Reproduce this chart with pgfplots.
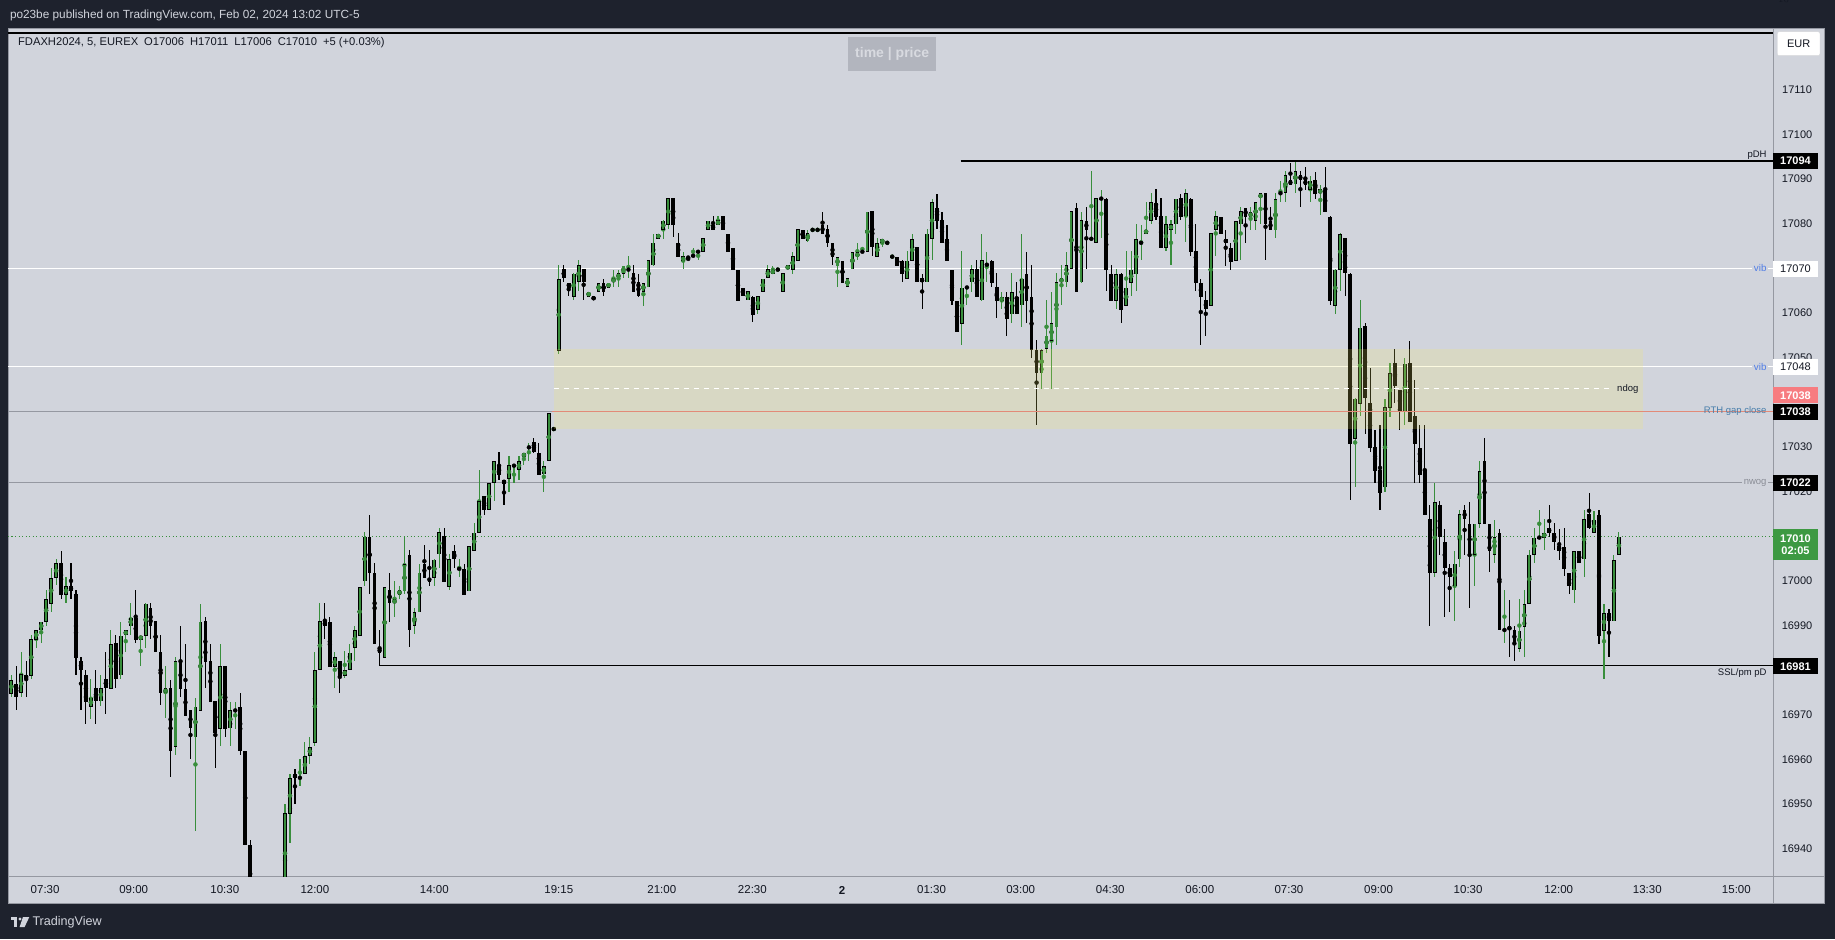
\documentclass[border=0pt]{standalone}
\usepackage{fontspec}
\setmainfont{Liberation Sans}
\usepackage{pgfplots}
\usepackage{pgfplotstable}
\pgfplotsset{compat=1.18}

\definecolor{tvdark}{RGB}{30,34,45}
\definecolor{tvbg}{RGB}{209,212,220}
\definecolor{tvgrey}{RGB}{149,152,161}
\definecolor{tvtext}{RGB}{19,23,34}
\definecolor{upg}{RGB}{56,142,60}
\definecolor{tagg}{RGB}{61,153,66}
\definecolor{salmon}{RGB}{247,124,128}
\definecolor{vibblue}{RGB}{80,125,230}
\definecolor{rthblue}{RGB}{70,125,170}
\definecolor{boxy}{RGB}{244,232,100}
\definecolor{redline}{RGB}{226,138,120}
\definecolor{nwogc}{RGB}{138,141,150}
\definecolor{tpbox}{RGB}{178,181,190}
\definecolor{tptext}{RGB}{216,218,224}

% FDAX 5 min bars, k = bar index, o h l c
\pgfplotstableread{
k o h l c
0 16974.9 16979.0 16974.1 16978.0
1 16976.9 16981.0 16971.1 16974.0
2 16974.9 16984.1 16974.1 16979.0
3 16979.0 16982.1 16974.1 16978.0
4 16978.8 16987.9 16978.1 16987.0
5 16986.9 16989.0 16985.1 16989.0
6 16989.0 16991.0 16986.2 16991.0
7 16991.0 16998.0 16990.0 16996.0
8 16995.0 17002.9 16993.1 17000.8
9 17000.8 17004.9 16999.0 17004.0
10 17004.0 17006.9 16996.0 16996.9
11 16996.9 17000.9 16995.2 16998.9
12 16998.9 17004.0 16996.0 16997.9
13 16997.1 16998.0 16979.0 16982.8
14 16982.1 16983.0 16971.1 16980.0
15 16979.0 16980.0 16968.1 16973.0
16 16971.9 16978.1 16969.2 16974.0
17 16976.0 16980.0 16968.1 16973.0
18 16973.0 16979.0 16972.1 16976.0
19 16978.0 16984.1 16970.1 16976.0
20 16976.0 16989.0 16976.0 16986.0
21 16986.0 16988.0 16976.1 16978.0
22 16978.9 16991.0 16978.1 16987.8
23 16987.9 16989.0 16984.1 16989.0
24 16989.9 16995.1 16987.9 16991.9
25 16991.9 16998.0 16986.2 16986.9
26 16986.9 16987.8 16981.0 16987.8
27 16987.8 16995.0 16985.1 16995.0
28 16994.0 16995.0 16987.1 16989.8
29 16991.0 16991.0 16984.0 16984.0
30 16984.1 16987.9 16972.1 16974.9
31 16974.9 16981.0 16969.2 16976.0
32 16976.0 16978.0 16956.2 16962.0
33 16962.9 16983.1 16961.1 16982.1
34 16982.1 16989.9 16974.1 16976.0
35 16976.0 16986.0 16969.9 16969.9
36 16971.0 16971.0 16960.2 16967.0
37 16965.0 16974.0 16944.1 16971.9
38 16971.0 16995.0 16971.0 16991.0
39 16991.0 16992.0 16976.0 16981.9
40 16982.1 16986.0 16973.0 16973.0
41 16973.0 16973.0 16958.2 16965.9
42 16967.0 16986.0 16963.1 16981.0
43 16981.0 16981.0 16965.2 16967.0
44 16967.0 16973.0 16963.1 16971.0
45 16971.0 16973.0 16967.0 16971.0
46 16971.9 16974.9 16961.1 16962.0
47 16962.0 16962.0 16941.0 16941.0
48 16941.0 16942.0 16925.0 16928.0
49 16928.0 16932.0 16915.0 16918.0
50 16918.0 16925.0 16910.0 16920.0
51 16920.0 16926.0 16912.0 16915.0
52 16915.0 16922.0 16908.0 16921.0
53 16921.0 16930.0 16917.0 16928.0
54 16928.0 16933.0 16922.0 16930.0
55 16930.0 16950.1 16925.0 16948.0
56 16948.0 16956.9 16941.3 16956.0
57 16956.9 16958.1 16950.2 16956.0
58 16956.0 16960.3 16954.1 16956.0
59 16956.9 16964.0 16956.9 16960.9
60 16960.9 16965.2 16959.2 16963.0
61 16963.9 16984.2 16963.1 16980.1
62 16980.1 16995.2 16980.1 16991.0
63 16991.0 16995.2 16987.2 16989.8
64 16991.0 16992.0 16980.8 16980.8
65 16980.8 16984.2 16976.1 16982.9
66 16982.1 16982.1 16975.0 16978.8
67 16978.8 16984.2 16978.2 16980.1
68 16980.1 16986.0 16980.1 16984.0
69 16985.0 16989.9 16982.2 16989.0
70 16987.8 16998.7 16987.8 16998.7
71 16999.9 17010.9 16998.9 17009.9
72 17009.9 17014.9 16997.2 17001.9
73 17001.9 17003.9 16986.0 16986.0
74 16984.9 16989.0 16981.0 16984.0
75 16982.9 16998.7 16982.9 16998.7
76 16998.0 17001.9 16991.0 16995.0
77 16995.0 17000.0 16992.0 16995.9
78 16996.9 16998.9 16995.9 16998.0
79 16997.8 17009.9 16997.2 17003.9
80 17006.0 17006.9 16985.1 16989.0
81 16989.9 16993.9 16988.1 16993.0
82 16993.0 17003.9 16993.0 17001.9
83 17003.9 17008.1 17000.8 17000.8
84 17000.8 17006.9 16998.9 16999.9
85 17000.8 17004.9 16998.9 17004.9
86 17006.0 17011.9 17003.0 17010.9
87 17010.0 17011.9 16999.9 16999.9
88 16998.7 17006.0 16998.0 17004.9
89 17006.9 17008.1 17003.0 17004.9
90 17002.8 17004.9 17001.0 17002.8
91 17002.8 17003.9 16997.0 16997.0
92 16997.8 17007.9 16997.8 17007.9
93 17006.9 17012.9 17006.9 17010.9
94 17010.9 17024.9 17010.9 17017.9
95 17019.0 17019.0 17014.9 17015.9
96 17015.9 17021.9 17015.9 17021.9
97 17021.9 17026.9 17017.9 17026.9
98 17026.0 17029.0 17022.8 17023.9
99 17022.8 17022.8 17017.0 17021.9
100 17022.8 17028.0 17020.0 17026.0
101 17025.8 17025.8 17021.9 17025.8
102 17024.9 17028.0 17022.8 17026.9
103 17027.8 17028.8 17026.0 17028.8
104 17029.9 17031.0 17026.9 17029.9
105 17031.0 17032.1 17028.8 17028.8
106 17028.8 17031.0 17023.9 17023.9
107 17023.9 17026.9 17020.0 17025.8
108 17026.9 17037.7 17026.9 17037.7
109 17034.0 17034.0 17034.0 17034.0
110 17051.7 17070.7 17050.8 17067.8
111 17069.8 17070.7 17067.0 17067.8
112 17066.9 17066.9 17063.9 17065.7
113 17063.7 17068.9 17062.9 17068.9
114 17066.9 17071.9 17064.9 17070.7
115 17069.8 17069.8 17062.9 17066.9
116 17063.7 17064.8 17063.7 17064.8
117 17063.8 17063.8 17062.8 17062.8
118 17064.8 17066.9 17064.8 17066.9
119 17066.9 17067.8 17063.9 17064.8
120 17065.7 17066.9 17065.7 17066.9
121 17066.9 17069.8 17065.9 17067.8
122 17067.8 17069.8 17065.9 17068.9
123 17068.9 17070.7 17067.9 17070.7
124 17069.8 17072.8 17067.9 17069.8
125 17068.9 17070.7 17064.8 17064.8
126 17066.9 17068.9 17063.7 17063.7
127 17064.8 17066.9 17061.8 17066.9
128 17065.7 17071.9 17065.7 17071.9
129 17070.7 17077.8 17070.7 17075.8
130 17076.7 17077.8 17076.7 17077.8
131 17078.7 17080.8 17076.7 17080.8
132 17079.8 17085.7 17078.8 17085.7
133 17085.7 17085.7 17076.9 17079.8
134 17075.8 17077.8 17072.6 17072.6
135 17071.7 17073.7 17069.8 17072.8
136 17072.6 17072.6 17071.9 17072.4
137 17072.8 17074.7 17072.8 17072.8
138 17073.8 17073.8 17071.9 17073.8
139 17073.7 17076.7 17073.7 17076.7
140 17078.7 17080.8 17078.7 17080.8
141 17079.8 17081.7 17078.7 17078.7
142 17079.8 17081.7 17079.8 17080.8
143 17081.7 17081.7 17078.7 17078.7
144 17077.8 17077.8 17073.7 17073.7
145 17074.7 17074.7 17069.8 17069.8
146 17069.8 17069.8 17062.8 17062.8
147 17065.7 17065.7 17063.8 17063.8
148 17062.8 17064.8 17062.8 17064.8
149 17063.8 17063.8 17057.9 17059.7
150 17060.8 17063.8 17059.9 17063.8
151 17064.8 17067.8 17064.8 17067.8
152 17067.8 17070.7 17067.8 17069.8
153 17068.9 17070.7 17068.9 17069.8
154 17069.8 17069.8 17069.8 17069.8
155 17064.8 17068.9 17064.8 17068.9
156 17069.8 17070.7 17069.8 17070.7
157 17069.8 17073.8 17068.9 17072.8
158 17071.7 17078.7 17071.7 17078.7
159 17078.7 17078.7 17076.7 17076.7
160 17076.0 17078.7 17076.0 17077.8
161 17078.7 17078.7 17078.7 17078.7
162 17078.7 17078.7 17078.7 17078.7
163 17079.9 17082.8 17077.8 17077.8
164 17078.8 17079.9 17074.9 17075.8
165 17075.8 17075.8 17070.8 17072.6
166 17070.6 17072.7 17065.9 17072.7
167 17071.7 17071.7 17066.9 17066.9
168 17065.8 17067.8 17065.8 17067.8
169 17069.8 17073.7 17069.8 17073.7
170 17072.6 17075.8 17071.9 17073.7
171 17073.8 17074.9 17073.8 17073.8
172 17073.8 17082.8 17073.8 17082.8
173 17082.8 17082.8 17072.8 17074.7
174 17072.6 17076.9 17072.6 17075.8
175 17075.8 17076.7 17074.9 17076.7
176 17075.8 17075.8 17075.8 17075.8
177 17072.7 17072.7 17072.7 17072.7
178 17072.7 17072.7 17070.6 17070.6
179 17071.8 17071.8 17067.0 17068.8
180 17067.8 17073.8 17067.8 17071.8
181 17071.8 17077.8 17071.8 17076.7
182 17074.7 17074.7 17066.9 17066.9
183 17067.8 17068.9 17060.9 17066.9
184 17066.9 17078.8 17066.9 17077.8
185 17076.7 17085.7 17071.9 17084.8
186 17083.7 17086.8 17078.8 17080.7
187 17080.8 17082.8 17075.8 17075.8
188 17076.7 17079.9 17071.7 17071.7
189 17069.8 17069.8 17061.8 17062.8
190 17062.8 17062.8 17055.8 17055.8
191 17057.7 17073.8 17052.8 17065.8
192 17065.8 17065.8 17061.8 17065.8
193 17066.9 17070.8 17064.8 17069.8
194 17069.8 17071.9 17063.7 17063.7
195 17062.8 17077.8 17062.8 17071.8
196 17070.8 17073.8 17066.9 17070.8
197 17071.8 17071.8 17065.9 17066.9
198 17065.8 17068.9 17058.9 17062.8
199 17062.8 17064.8 17060.9 17063.7
200 17063.7 17064.8 17054.9 17058.8
201 17059.8 17068.9 17057.8 17064.8
202 17063.7 17066.9 17059.8 17059.8
203 17061.8 17077.8 17056.9 17067.8
204 17068.9 17073.8 17057.8 17062.8
205 17063.7 17070.8 17050.0 17051.7
206 17051.9 17053.9 17035.0 17046.6
207 17046.6 17051.9 17043.0 17051.9
208 17051.9 17062.9 17051.0 17054.9
209 17053.8 17064.8 17043.0 17057.7
210 17056.8 17068.9 17052.8 17066.9
211 17066.9 17070.8 17061.8 17067.8
212 17066.9 17073.8 17065.9 17070.8
213 17069.8 17082.8 17069.8 17082.8
214 17083.7 17084.8 17064.8 17064.8
215 17066.9 17082.8 17066.9 17080.8
216 17080.8 17083.7 17069.8 17078.7
217 17076.7 17091.8 17076.0 17076.7
218 17075.7 17085.7 17075.7 17085.7
219 17085.7 17087.7 17076.9 17085.7
220 17085.7 17085.7 17065.0 17069.8
221 17068.9 17070.7 17062.8 17062.8
222 17062.8 17069.8 17060.9 17068.9
223 17068.9 17068.9 17057.8 17060.7
224 17061.6 17073.9 17061.6 17065.7
225 17066.8 17073.9 17063.8 17069.8
226 17068.8 17079.9 17065.0 17076.7
227 17075.8 17079.9 17071.9 17075.8
228 17077.8 17084.9 17077.8 17078.7
229 17080.7 17086.8 17079.9 17084.8
230 17084.8 17087.7 17080.8 17081.6
231 17081.7 17085.7 17074.6 17074.6
232 17074.6 17081.7 17073.9 17079.9
233 17078.7 17080.8 17070.7 17079.9
234 17079.9 17085.7 17077.8 17085.7
235 17085.7 17086.8 17080.8 17081.6
236 17081.6 17087.7 17075.9 17086.8
237 17085.7 17085.7 17072.8 17073.7
238 17073.9 17079.9 17065.0 17066.8
239 17066.8 17067.7 17052.8 17063.7
240 17062.8 17064.9 17054.8 17060.8
241 17061.6 17077.8 17061.6 17077.8
242 17078.7 17082.8 17072.8 17081.7
243 17081.7 17081.7 17077.8 17077.8
244 17076.7 17078.7 17070.7 17075.7
245 17074.7 17075.7 17069.8 17071.7
246 17071.7 17080.7 17071.7 17080.7
247 17079.8 17083.8 17071.9 17082.8
248 17083.6 17083.6 17075.9 17081.6
249 17081.6 17083.8 17078.7 17082.8
250 17080.7 17084.8 17078.7 17084.8
251 17085.7 17086.8 17079.9 17086.8
252 17086.8 17086.8 17071.9 17079.9
253 17080.8 17083.8 17078.7 17078.7
254 17078.7 17086.8 17076.9 17085.7
255 17086.8 17089.8 17084.9 17086.8
256 17086.8 17091.8 17084.9 17090.8
257 17089.8 17093.7 17088.8 17088.8
258 17088.8 17093.7 17086.9 17091.8
259 17090.8 17091.8 17083.8 17089.8
260 17089.8 17092.8 17087.7 17088.8
261 17087.7 17090.8 17084.9 17089.8
262 17089.8 17091.8 17085.7 17086.8
263 17086.8 17088.8 17081.9 17087.7
264 17087.7 17092.8 17082.8 17082.8
265 17081.7 17081.7 17061.8 17062.8
266 17061.6 17069.8 17059.9 17069.8
267 17069.8 17077.8 17065.0 17077.8
268 17076.7 17076.7 17063.8 17068.9
269 17068.9 17068.9 17018.1 17030.8
270 17031.9 17040.9 17021.1 17040.9
271 17039.8 17062.9 17036.9 17056.8
272 17057.0 17058.0 17033.1 17040.9
273 17039.8 17047.8 17028.9 17029.9
274 17029.9 17033.8 17022.0 17024.7
275 17024.9 17034.9 17015.9 17019.8
276 17021.0 17040.9 17020.0 17038.9
277 17038.9 17048.9 17036.8 17046.7
278 17048.9 17051.9 17039.9 17043.7
279 17042.8 17042.8 17033.8 17037.8
280 17037.8 17049.9 17034.9 17048.7
281 17048.9 17053.9 17035.7 17035.7
282 17036.9 17045.0 17022.0 17030.8
283 17029.9 17034.9 17022.0 17023.9
284 17024.9 17034.9 17014.8 17014.8
285 17013.8 17017.0 16990.0 17001.9
286 17001.9 17021.9 17001.0 17017.8
287 17017.0 17018.0 17006.0 17009.8
288 17008.8 17011.8 16992.0 17002.8
289 17002.8 17004.0 16993.1 17000.8
290 16998.9 17006.9 16991.1 17004.0
291 17004.8 17015.9 17003.1 17015.0
292 17015.9 17017.0 17006.0 17013.8
293 17012.9 17017.8 16994.0 17005.8
294 17005.8 17012.9 16999.0 17012.9
295 17012.9 17026.9 17012.0 17024.7
296 17026.9 17031.9 17012.9 17012.9
297 17012.9 17012.9 17002.1 17006.8
298 17005.8 17013.8 17004.0 17009.8
299 17010.8 17011.8 16989.0 16989.0
300 16989.0 16998.0 16986.2 16989.0
301 16989.9 16995.9 16983.1 16989.0
302 16989.0 16989.9 16982.2 16986.0
303 16984.9 16995.9 16984.2 16989.0
304 16989.9 16998.0 16983.1 16995.0
305 16995.0 17006.9 16995.0 17006.0
306 17006.0 17011.8 17004.1 17009.8
307 17009.8 17015.9 17009.8 17009.8
308 17009.8 17013.8 17006.9 17010.8
309 17011.8 17017.0 17009.8 17010.8
310 17010.8 17012.9 17006.9 17008.8
311 17008.0 17011.8 17004.8 17006.8
312 17007.8 17011.8 17001.0 17002.8
313 17001.9 17001.9 16997.2 16998.9
314 16998.0 17006.8 16995.2 17006.8
315 17006.8 17006.8 17004.0 17004.0
316 17004.8 17015.9 17001.0 17013.8
317 17015.0 17019.8 17011.8 17011.8
318 17010.8 17015.9 17010.8 17013.8
319 17015.0 17015.9 16986.0 16987.9
320 16989.0 16995.0 16978.2 16992.9
321 16992.9 16993.9 16983.1 16991.1
322 16991.1 17006.0 16991.1 17004.8
323 17006.0 17011.0 17006.0 17010.0
}\candles

\begin{document}
\begin{tikzpicture}[x=1pt,y=1pt]
\path[use as bounding box] (0,0) rectangle (1835,939);
% frame
\fill[tvdark] (0,0) rectangle (1835,939);
\fill[tvbg] (8,35.3) rectangle (1824.5,911);
\draw[tvgrey, line width=0.8pt] (8,35.3) rectangle (1824.5,911);
\draw[tvgrey, line width=0.8pt] (1773.3,35.3) -- (1773.3,911);
\draw[tvgrey, line width=0.8pt] (8,62.7) -- (1824.5,62.7);

\begin{axis}[
  at={(8pt,62pt)}, anchor=south west,
  scale only axis, width=1765pt, height=849pt,
  xmin=-0.66, xmax=353.97, ymin=16933.7, ymax=17123.8,
  axis line style={draw=none}, tick style={draw=none},
  clip mode=individual,
  xtick={6.8,24.6,42.9,61,85,110,130.7,148.9,166.9,184.9,202.8,220.8,238.8,256.7,274.7,292.7,310.9,328.7,346.6},
  xticklabels={07:30,09:00,10:30,12:00,14:00,19:15,21:00,22:30,\textbf{2},01:30,03:00,04:30,06:00,07:30,09:00,10:30,12:00,13:30,15:00},
  xticklabel style={anchor=center, yshift=-13pt, font=\fontsize{11.5}{13}\selectfont, text=tvtext},
  ytick={16940,16950,16960,16970,16990,17000,17020,17030,17050,17060,17080,17090,17100,17110},
  yticklabels={16940,16950,16960,16970,16990,17000,17020,17030,17050,17060,17080,17090,17100,17110},
  yticklabel pos=right,
  yticklabel style={anchor=center, xshift=24pt, font=\fontsize{11}{13}\selectfont, text=tvtext},
]
% level lines
\draw[black, line width=1.5pt] (axis cs:-0.66,17122.7) -- (axis cs:353.97,17122.7);
\draw[black, line width=1.3pt] (axis cs:190.75,17094) -- (axis cs:353.97,17094);
\draw[white, line width=1pt] (axis cs:-0.66,17070) -- (axis cs:353.97,17070);
\draw[white, line width=1pt] (axis cs:-0.66,17048) -- (axis cs:353.97,17048);
\draw[tvgrey, line width=1pt] (axis cs:-0.66,17038) -- (axis cs:353.97,17038);
\draw[tvgrey, line width=1pt] (axis cs:-0.66,17022) -- (axis cs:353.97,17022);
\draw[upg, line width=1pt, dash pattern=on 1.3pt off 2.2pt] (axis cs:-0.66,17010) -- (axis cs:353.97,17010);
\draw[black, line width=1.3pt] (axis cs:73.9,16981) -- (axis cs:353.97,16981);

% wicks
\addplot[upg, only marks, mark=none, restrict expr to domain={\thisrow{c}-\thisrow{o}}{0:1000},
  error bars/.cd, y dir=both, y explicit, error mark=none, error bar style={line width=1.1pt}]
  table[x=k, y expr={(\thisrow{h}+\thisrow{l})/2}, y error expr={(\thisrow{h}-\thisrow{l})/2}] {\candles};
\addplot[black, only marks, mark=none, restrict expr to domain={\thisrow{o}-\thisrow{c}}{0.01:1000},
  error bars/.cd, y dir=both, y explicit, error mark=none, error bar style={line width=1.1pt}]
  table[x=k, y expr={(\thisrow{h}+\thisrow{l})/2}, y error expr={(\thisrow{h}-\thisrow{l})/2}] {\candles};
% bodies
\addplot[black, only marks, mark=none,
  error bars/.cd, y dir=both, y explicit, error mark=none, error bar style={line width=3.7pt}]
  table[x=k, y expr={(\thisrow{o}+\thisrow{c})/2}, y error expr={max(abs(\thisrow{c}-\thisrow{o})/2,0.15)}] {\candles};
\addplot[upg, only marks, mark=none, restrict expr to domain={\thisrow{c}-\thisrow{o}}{0.4:1000},
  error bars/.cd, y dir=both, y explicit, error mark=none, error bar style={line width=2.1pt}]
  table[x=k, y expr={(\thisrow{o}+\thisrow{c})/2}, y error expr={max(abs(\thisrow{c}-\thisrow{o})/2-0.17,0)}] {\candles};

% gap box
\fill[boxy, fill opacity=0.2] (axis cs:109,17034) rectangle (axis cs:327.8,17052);
\draw[white, line width=1.2pt, dash pattern=on 5pt off 5pt] (axis cs:109,17043) -- (axis cs:321.8,17043);
\draw[redline, line width=1pt] (axis cs:108.6,17038) -- (axis cs:353.97,17038);
\end{axis}

% header and footer
\node[anchor=west, inner sep=0, text=tvbg, font=\fontsize{11.8}{14}\selectfont] at (9.8,924) {po23be published on TradingView.com, Feb 02, 2024 13:02 UTC-5};
\node[anchor=west, inner sep=0, text=tvtext, font=\fontsize{11.2}{13}\selectfont] at (17.9,896) {FDAXH2024, 5, EUREX\hspace{6pt}O17006\hspace{6pt}H17011\hspace{6pt}L17006\hspace{6pt}C17010\hspace{6pt}+5 (+0.03\%)};
\node[fill=tpbox, text=tptext, inner sep=0, minimum width=87.7pt, minimum height=33.7pt, font=\bfseries\fontsize{14}{16}\selectfont] at (892.2,885.2) {time | price};
\fill[tvbg] (10.6,19) rectangle (17.3,22);
\fill[tvbg] (13.8,12) rectangle (17.3,22);
\fill[tvbg] (20,20) circle (1.7);
\fill[tvbg] (23,22) -- (29.3,22) -- (24.6,12) -- (19.6,12) -- cycle;
\node[anchor=west, inner sep=0, text=tvbg, font=\fontsize{12.6}{14}\selectfont] at (32.3,17) {TradingView};

% line labels
\node[anchor=south east, inner sep=1pt, text=tvtext, font=\fontsize{9.5}{11}\selectfont] at (1767.7,778.5) {pDH};
\node[anchor=east, inner sep=1.5pt, fill=tvbg, text=vibblue, font=\fontsize{9.8}{11}\selectfont] at (1768.2,670.7) {vib};
\node[anchor=east, inner sep=1.5pt, fill=tvbg, text=vibblue, font=\fontsize{9.8}{11}\selectfont] at (1768.2,572.4) {vib};
\node[anchor=east, inner sep=0, text=rthblue, font=\fontsize{9.5}{11}\selectfont] at (1766.7,527.7) {RTH gap close};
\node[anchor=east, inner sep=1.5pt, fill=tvbg, text=nwogc, font=\fontsize{9.5}{11}\selectfont] at (1768.2,456.3) {nwog};
\node[anchor=north east, inner sep=1pt, text=tvtext, font=\fontsize{9.5}{11}\selectfont] at (1767.7,271.5) {SSL/pm pD};
\node[anchor=west, inner sep=0, text=tvtext, font=\fontsize{9.5}{11}\selectfont] at (1617,550.1) {ndog};

% price tags
\node[fill=white, draw=tvgrey!40, rounded corners=2pt, minimum width=42.7pt, minimum height=24pt, inner sep=0, text=tvtext, font=\fontsize{11}{13}\selectfont] at (1798.6,895.3) {EUR};
\begin{scope}[every node/.style={minimum width=44.4pt, minimum height=16pt, inner sep=0, font=\bfseries\fontsize{11}{13}\selectfont}]
\node[fill=black, text=white] at (1795.5,777.9) {17094};
\node[fill=white, text=tvtext, font=\fontsize{11}{13}\selectfont] at (1795.5,670.2) {17070};
\node[fill=white, text=tvtext, font=\fontsize{11}{13}\selectfont] at (1795.5,571.9) {17048};
\node[fill=salmon, text=white] at (1795.5,543.5) {17038};
\node[fill=black, text=white] at (1795.5,527.2) {17038};
\node[fill=black, text=white] at (1795.5,456.0) {17022};
\node[fill=tagg, text=white, minimum height=30.7pt, align=center, font=\bfseries\fontsize{11}{12.5}\selectfont] at (1795.5,394.4) {17010\\02:05};
\node[fill=black, text=white] at (1795.5,272.6) {16981};
\end{scope}
\end{tikzpicture}
\end{document}
